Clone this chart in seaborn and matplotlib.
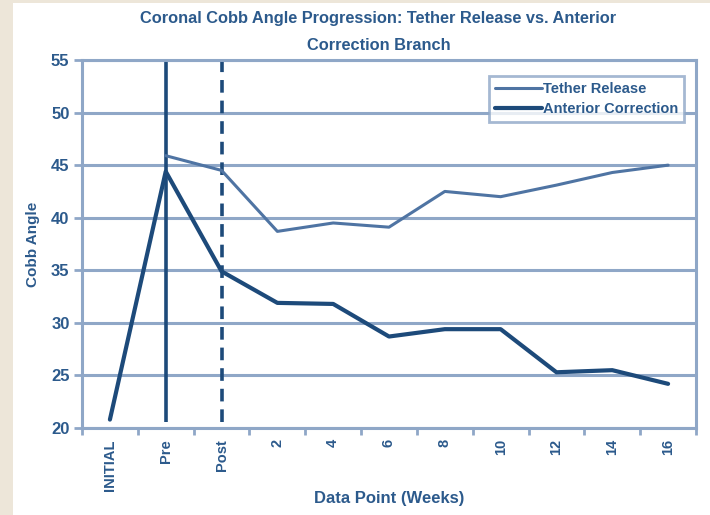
import numpy as np
import pandas as pd
import matplotlib
matplotlib.use("Agg")
import matplotlib.pyplot as plt
from matplotlib.patches import Rectangle
from matplotlib.lines import Line2D
import seaborn as sns

# Data points along the follow-up timeline
categories = ["INITIAL", "Pre", "Post", "2", "4", "6", "8", "10", "12", "14", "16"]
tether_release = [np.nan, 45.9, 44.5, 38.7, 39.5, 39.1, 42.5, 42.0, 43.1, 44.3, 45.0]
anterior_correction = [20.8, 44.4, 34.9, 31.9, 31.8, 28.7, 29.4, 29.4, 25.3, 25.5, 24.2]
y_ticks = [20, 25, 30, 35, 40, 45, 50, 55]

TEXT = "#2c5a8c"
GRID = "#8fa7c7"
LIGHT = "#4f74a3"
DARK = "#1d4a7a"
BEIGE = "#ede6d9"

sns.set_theme(style="white")
plt.rcParams["font.family"] = ["Liberation Sans", "DejaVu Sans"]
plt.rcParams["font.weight"] = "bold"

pos = np.arange(len(categories))
df = pd.DataFrame({
    "pos": np.concatenate([pos, pos]),
    "angle": tether_release + anterior_correction,
    "series": ["Tether Release"] * len(pos) + ["Anterior Correction"] * len(pos),
}).dropna()

fig = plt.figure(figsize=(7.1, 5.15), dpi=100, facecolor=BEIGE)
fig.patches.append(Rectangle((13 / 710, 0), 1, 1 - 3 / 515, transform=fig.transFigure,
                             facecolor="white", edgecolor="none", zorder=-10))
ax = fig.add_axes([82 / 710, 1 - 428 / 515, (696 - 82) / 710, (428 - 60) / 515])
ax.set_facecolor("white")

ax.set_xlim(-0.5, len(categories) - 0.5)
ax.set_ylim(20, 55)
ax.set_yticks(y_ticks)
for y in y_ticks:
    ax.axhline(y, color=GRID, lw=2.2, zorder=1)

# Surgery markers: pre-op (solid) and post-op (dashed)
ax.vlines(1, 20.6, 55, color=DARK, lw=2.6, zorder=2)
ax.vlines(2, 20.6, 55, color=DARK, lw=2.6, linestyles=(0, (3.5, 2.2)), zorder=2)

sns.lineplot(data=df, x="pos", y="angle", hue="series",
             palette={"Tether Release": LIGHT, "Anterior Correction": DARK},
             size="series", sizes={"Tether Release": 2.2, "Anterior Correction": 3.0},
             hue_order=["Tether Release", "Anterior Correction"],
             ax=ax, zorder=3, legend=False)

for s in ax.spines.values():
    s.set_color(GRID)
    s.set_linewidth(2.2)

ax.set_xticks(pos)
ax.set_xticklabels(categories, rotation=90, fontsize=10.5, fontweight="bold", color=TEXT)
ax.set_xticks(np.arange(-0.5, len(categories), 1), minor=True)
ax.tick_params(axis="x", which="major", length=0, pad=8)
ax.tick_params(axis="x", which="minor", length=5, width=2, color=GRID, direction="out", bottom=True)
ax.tick_params(axis="y", length=6, width=2, color=GRID, direction="out", left=True, pad=3)
for t in ax.get_yticklabels():
    t.set_fontsize(12)
    t.set_fontweight("bold")
    t.set_color(TEXT)

ax.set_xlabel("Data Point (Weeks)", fontsize=12, fontweight="bold", color=TEXT, labelpad=0)
ax.set_ylabel("Cobb Angle", fontsize=11, fontweight="bold", color=TEXT, labelpad=8)

fig.text(0.533, 1 - 18 / 515, "Coronal Cobb Angle Progression: Tether Release vs. Anterior",
         ha="center", va="center", fontsize=11.8, fontweight="bold", color=TEXT)
fig.text(0.533, 1 - 45 / 515, "Correction Branch",
         ha="center", va="center", fontsize=11.8, fontweight="bold", color=TEXT)

handles = [Line2D([], [], color=LIGHT, lw=2.2), Line2D([], [], color=DARK, lw=3.0)]
leg = ax.legend(handles, ["Tether Release", "Anterior Correction"],
                loc="upper right", bbox_to_anchor=(0.993, 0.975), frameon=True,
                fancybox=False, handlelength=3.2, handletextpad=0.1,
                borderpad=0.4, labelspacing=0.4, prop={"size": 10.5, "weight": "bold"})
leg.get_frame().set_edgecolor(GRID)
leg.get_frame().set_linewidth(2)
for t in leg.get_texts():
    t.set_color(TEXT)

fig.savefig("out.png", dpi=100, facecolor=BEIGE)
